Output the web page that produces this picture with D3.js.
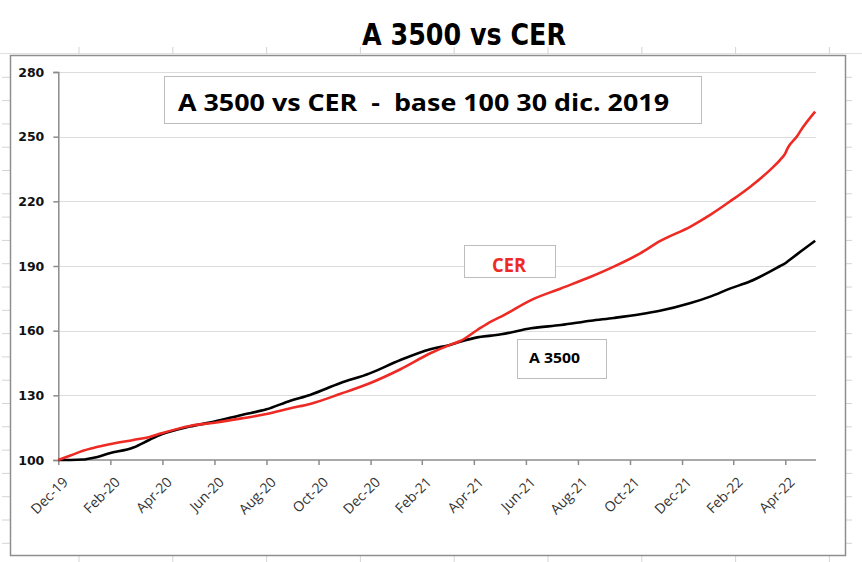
<!DOCTYPE html>
<html>
<head>
<meta charset="utf-8">
<script src="https://cdn.jsdelivr.net/npm/d3@7"></script>
<style>
  html, body { margin: 0; padding: 0; background: #fff; }
  svg { display: block; }
</style>
</head>
<body>
<svg id="chart" width="862" height="562"></svg>
<script>
// ---- Data ----
const dates = [
  "2019-12-30","2020-01-14","2020-01-28","2020-02-09","2020-02-28","2020-03-27","2020-04-15","2020-04-29",
  "2020-06-01","2020-06-30","2020-08-01","2020-08-30","2020-09-27","2020-10-20","2020-11-24","2020-12-29",
  "2021-02-03","2021-03-10","2021-04-02","2021-04-14","2021-05-04","2021-05-20","2021-06-01","2021-07-06",
  "2021-08-10","2021-09-14","2021-10-11","2021-11-11","2021-12-04","2022-01-09","2022-02-01","2022-02-24",
  "2022-03-20","2022-04-12","2022-04-24","2022-04-30","2022-05-03","2022-05-14","2022-05-18","2022-06-04"
];
const cer = [
  100.0, 102.2, 104.3, 105.6, 107.3, 109.3, 110.7, 112.4,
  115.8, 117.3, 119.3, 121.3, 124.0, 126.0, 130.6, 135.6,
  142.1, 149.5, 153.4, 155.2, 160.3, 164.2, 166.5, 174.2,
  179.6, 185.0, 189.7, 195.9, 201.5, 208.3, 213.7, 219.9,
  226.8, 234.5, 239.2, 242.3, 244.8, 250.3, 252.8, 261.6
];
const a3500 = [
  100.0, 100.0, 100.2, 101.0, 103.1, 105.8, 109.4, 111.9,
  115.5, 117.8, 120.9, 123.5, 127.5, 130.2, 135.6, 140.2,
  146.4, 151.4, 153.4, 154.9, 156.9, 157.7, 158.3, 161.1,
  162.6, 164.6, 165.9, 167.6, 169.2, 172.8, 175.8, 179.5,
  182.9, 187.4, 190.0, 191.3, 192.2, 195.5, 196.7, 201.7
];
const xTickDates = [
  "2019-12-30","2020-02-29","2020-04-30","2020-06-30","2020-08-30","2020-10-30","2020-12-30",
  "2021-02-28","2021-04-30","2021-06-30","2021-08-30","2021-10-30","2021-12-30","2022-02-28","2022-04-30"
];
const xTickLabels = ["Dec-19","Feb-20","Apr-20","Jun-20","Aug-20","Oct-20","Dec-20",
  "Feb-21","Apr-21","Jun-21","Aug-21","Oct-21","Dec-21","Feb-22","Apr-22"];
const yTicks = [100, 130, 160, 190, 220, 250, 280];
const seriesNames = ["CER", "A 3500"];
const chartTitle = "A 3500 vs CER";
const boxTitle = "A 3500 vs CER  -  base 100 30 dic. 2019";

// ---- Setup ----
const parse = d3.utcParse("%Y-%m-%d");
const svg = d3.select("#chart");

const x = d3.scaleUtc()
  .domain([parse("2019-12-30"), parse("2022-06-05")])
  .range([58.3, 816]);
const y = d3.scaleLinear().domain([100, 280]).range([460, 72]);

// Spreadsheet cell-grid stubs around the chart frame
const stub = svg.append("g").attr("stroke", "#d4d4d4").attr("stroke-width", 1);
stub.append("line").attr("x1", 0).attr("x2", 862).attr("y1", 53.5).attr("y2", 53.5).attr("stroke", "#e2e2e2");
d3.range(79, 846, 93.8).forEach(px => {
  stub.append("line").attr("x1", px).attr("x2", px).attr("y1", 47).attr("y2", 54);
  stub.append("line").attr("x1", px).attr("x2", px).attr("y1", 556).attr("y2", 562);
});
d3.range(77.3, 556, 23.3).forEach(py => {
  stub.append("line").attr("x1", 2).attr("x2", 10).attr("y1", py).attr("y2", py);
  stub.append("line").attr("x1", 846).attr("x2", 852).attr("y1", py).attr("y2", py);
});

// Chart frame
svg.append("rect")
  .attr("x", 10.5).attr("y", 55.5).attr("width", 835).attr("height", 500)
  .attr("fill", "#fff").attr("stroke", "#8e8e8e").attr("stroke-width", 1.5);

// Title
svg.append("text")
  .attr("x", 464).attr("y", 45)
  .attr("text-anchor", "middle")
  .attr("font-family", "'Liberation Sans Narrow','DejaVu Sans Condensed','Liberation Sans',sans-serif")
  .attr("font-weight", "bold").attr("font-size", 31)
  .attr("textLength", 204).attr("lengthAdjust", "spacingAndGlyphs")
  .attr("fill", "#000")
  .text(chartTitle);

// Gridlines
svg.append("g")
  .selectAll("line").data(yTicks.filter(v => v > 100)).join("line")
  .attr("x1", 58.3).attr("x2", 816)
  .attr("y1", d => Math.round(y(d)) + 0.5).attr("y2", d => Math.round(y(d)) + 0.5)
  .attr("stroke", "#dcdcdc").attr("stroke-width", 1);

// Y axis
const yAxis = svg.append("g").attr("transform", "translate(58.3,0)")
  .call(d3.axisLeft(y).tickValues(yTicks).tickSize(5).tickPadding(9).tickFormat(d3.format("d")));
yAxis.select(".domain").attr("stroke", "#8c8c8c").attr("stroke-width", 1.5);
yAxis.selectAll(".tick line").attr("stroke", "#8c8c8c").attr("stroke-width", 1.5);
yAxis.selectAll(".tick text")
  .attr("font-family", "'DejaVu Sans',Verdana,sans-serif").attr("font-weight", "bold")
  .attr("font-size", 12.5).attr("fill", "#111");

// X axis
const xAxis = svg.append("g").attr("transform", "translate(0,460)")
  .call(d3.axisBottom(x).tickValues(xTickDates.map(parse)).tickSize(5)
    .tickFormat((d, i) => xTickLabels[i]));
xAxis.select(".domain").attr("stroke", "#8c8c8c").attr("stroke-width", 1.5)
  .attr("d", "M58.3,0H816");
xAxis.selectAll(".tick line").attr("stroke", "#8c8c8c").attr("stroke-width", 1.5);
xAxis.selectAll(".tick text")
  .attr("font-family", "'Open Sans','Liberation Sans',sans-serif")
  .attr("font-size", 14).attr("fill", "#333")
  .attr("text-anchor", "end")
  .attr("y", 0).attr("dy", 0)
  .attr("transform", "translate(10,23) rotate(-45)");

// Lines
const line = vals => d3.line()
  .x((d, i) => x(parse(dates[i])))
  .y(d => y(d))
  .curve(d3.curveMonotoneX)(vals);

svg.append("path").attr("d", line(a3500))
  .attr("fill", "none").attr("stroke", "#000").attr("stroke-width", 2.6).attr("stroke-linejoin", "round");
svg.append("path").attr("d", line(cer))
  .attr("fill", "none").attr("stroke", "#ee2a24").attr("stroke-width", 2.6).attr("stroke-linejoin", "round");

// Title box in plot
svg.append("rect").attr("x", 164.5).attr("y", 76.5).attr("width", 537).attr("height", 47)
  .attr("fill", "#fff").attr("stroke", "#bdbdbd").attr("stroke-width", 1);
svg.append("text")
  .attr("x", 178).attr("y", 111)
  .attr("xml:space", "preserve").style("white-space", "pre")
  .attr("font-family", "'Open Sans','Liberation Sans',sans-serif")
  .attr("font-weight", "bold").attr("font-size", 24)
  .attr("textLength", 491).attr("lengthAdjust", "spacingAndGlyphs")
  .attr("fill", "#000")
  .text(boxTitle);

// Series label boxes
svg.append("rect").attr("x", 464.5).attr("y", 245.5).attr("width", 91).attr("height", 32)
  .attr("fill", "#fff").attr("stroke", "#bdbdbd").attr("stroke-width", 1);
svg.append("text")
  .attr("x", 509).attr("y", 272).attr("text-anchor", "middle")
  .attr("font-family", "'Open Sans','Liberation Sans',sans-serif")
  .attr("font-weight", "bold").attr("font-size", 19)
  .attr("textLength", 34).attr("lengthAdjust", "spacingAndGlyphs")
  .attr("fill", "#ee2a24")
  .text(seriesNames[0]);

svg.append("rect").attr("x", 517.5).attr("y", 339.5).attr("width", 89).attr("height", 39)
  .attr("fill", "#fff").attr("stroke", "#bdbdbd").attr("stroke-width", 1);
svg.append("text")
  .attr("x", 529).attr("y", 362.5)
  .attr("font-family", "'Open Sans','Liberation Sans',sans-serif")
  .attr("font-weight", "bold").attr("font-size", 15)
  .attr("textLength", 51).attr("lengthAdjust", "spacingAndGlyphs")
  .attr("fill", "#000")
  .text(seriesNames[1]);
</script>
</body>
</html>
